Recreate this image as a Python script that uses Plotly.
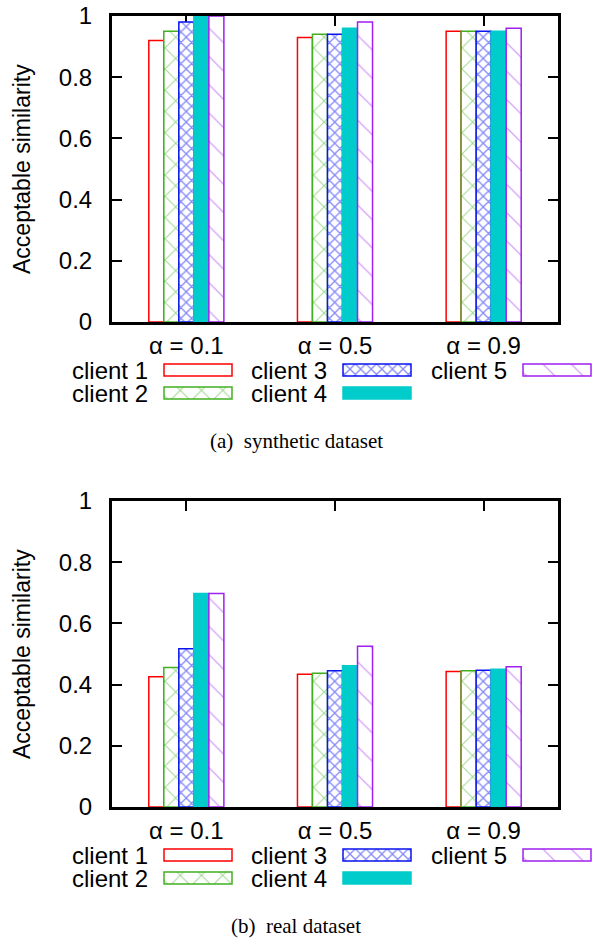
import plotly.graph_objects as go

# ---------------- data ----------------
categories = ["α = 0.1", "α = 0.5", "α = 0.9"]
clients = ["client 1", "client 2", "client 3", "client 4", "client 5"]

synthetic_client1 = [0.92, 0.93, 0.95]
synthetic_client2 = [0.95, 0.94, 0.95]
synthetic_client3 = [0.98, 0.94, 0.95]
synthetic_client4 = [1.00, 0.96, 0.95]
synthetic_client5 = [1.00, 0.98, 0.96]

real_client1 = [0.426, 0.434, 0.443]
real_client2 = [0.456, 0.437, 0.445]
real_client3 = [0.517, 0.445, 0.447]
real_client4 = [0.698, 0.462, 0.450]
real_client5 = [0.698, 0.525, 0.458]

y_ticks = [0, 0.2, 0.4, 0.6, 0.8, 1]
y_ticklabels = ["0", "0.2", "0.4", "0.6", "0.8", "1"]
captions = ["(a)\u00a0 synthetic dataset", "(b)\u00a0 real dataset"]
y_title = "Acceptable similarity"

synthetic = [synthetic_client1, synthetic_client2, synthetic_client3,
             synthetic_client4, synthetic_client5]
real = [real_client1, real_client2, real_client3, real_client4, real_client5]

# ---------------- styles ----------------
W, H = 593, 938
SANS = "Liberation Sans, Arial, Helvetica, sans-serif"
SERIF = "Liberation Serif, Times New Roman, serif"
colors = ["#ff0000", "#40b020", "#0a14f0", "#00cccc", "#a020f0"]
patterns = [
    dict(shape=""),
    dict(shape="x", size=15, solidity=0.13),
    dict(shape="x", size=7.5, solidity=0.32),
    dict(shape=""),
    dict(shape="\\", size=20, solidity=0.06),
]
fills = ["white", "white", "white", "#00cccc", "white"]


def px_x(p):
    return p / W


def px_y(p):
    return 1 - p / H


# panel geometry (pixels)
plot_left, plot_right = 112, 558
panels = [dict(top=16, bottom=322), dict(top=501, bottom=807)]
legend_box_left = [164, 343, 523]
legend_box_w = 68
legend_row_gap = 23

fig = go.Figure()
layout = dict(
    width=W, height=H,
    margin=dict(l=0, r=0, t=0, b=0, pad=0, autoexpand=False),
    paper_bgcolor="white", plot_bgcolor="white",
    showlegend=False,
    barmode="group", bargap=0.495, bargroupgap=0,
    font=dict(family=SANS, size=23, color="black"),
)
annotations = []

for pi, (panel, dataset) in enumerate(zip(panels, [synthetic, real])):
    xa = "x" if pi == 0 else "x2"
    ya = "y" if pi == 0 else "y2"
    lxa = "x3" if pi == 0 else "x4"
    lya = "y3" if pi == 0 else "y4"
    for ci, (name, vals) in enumerate(zip(clients, dataset)):
        fig.add_trace(go.Bar(
            x=categories, y=vals, name=name, xaxis=xa, yaxis=ya,
            marker=dict(color=fills[ci], line=dict(color=colors[ci], width=1.5),
                        pattern=dict(fgcolor=colors[ci], fillmode="overlay",
                                     **patterns[ci])),
            offsetgroup=str(ci),
        ))
    axis_key = "xaxis" if pi == 0 else "xaxis2"
    yaxis_key = "yaxis" if pi == 0 else "yaxis2"
    layout[axis_key] = dict(
        domain=[px_x(plot_left), px_x(plot_right)], anchor=ya,
        type="category", range=[-0.5, 2.5], automargin=False,
        showline=True, linewidth=3, linecolor="black", mirror="ticks",
        ticks="inside", ticklen=10, tickwidth=1.5, tickcolor="black",
        showgrid=False, zeroline=False, layer="below traces",
        tickfont=dict(size=24, family=SANS), ticklabelstandoff=0,
        fixedrange=True,
    )
    layout[yaxis_key] = dict(
        domain=[px_y(panel["bottom"]), px_y(panel["top"])], anchor=xa,
        range=[0, 1], tickvals=y_ticks, ticktext=y_ticklabels, automargin=False,
        showline=True, linewidth=3, linecolor="black", mirror="ticks",
        ticks="inside", ticklen=10, tickwidth=1.5, tickcolor="black",
        showgrid=False, zeroline=False, layer="below traces",
        tickfont=dict(size=24, family=SANS), ticklabelstandoff=12,
        fixedrange=True,
    )
    annotations.append(dict(
        text=y_title, textangle=-90, xref="paper", yref="paper",
        x=px_x(22), y=px_y((panel["top"] + panel["bottom"]) / 2),
        xanchor="center", yanchor="middle", showarrow=False,
        font=dict(size=23, family=SANS),
    ))

    # legend axes (pixel-like units)
    row0 = panel["bottom"] + 48
    leg_top = row0 - legend_row_gap / 2
    leg_bot = row0 + legend_row_gap * 1.5
    layout["xaxis3" if pi == 0 else "xaxis4"] = dict(
        domain=[0, 1], range=[0, W], anchor=lya, visible=False,
        fixedrange=True, automargin=False)
    layout["yaxis3" if pi == 0 else "yaxis4"] = dict(
        domain=[px_y(leg_bot), px_y(leg_top)], range=[1.5, -0.5], anchor=lxa,
        visible=False, fixedrange=True, automargin=False)
    for ci, name in enumerate(clients):
        col, row = ci // 2, ci % 2
        fig.add_trace(go.Bar(
            orientation="h", y=[row], x=[legend_box_w], base=[legend_box_left[col]],
            width=0.52, offset=-0.26, xaxis=lxa, yaxis=lya, showlegend=False,
            hoverinfo="skip",
            marker=dict(color=fills[ci], line=dict(color=colors[ci], width=1.5),
                        pattern=dict(fgcolor=colors[ci], fillmode="overlay",
                                     **patterns[ci])),
        ))
        annotations.append(dict(
            text=name, xref=lxa, yref=lya, x=legend_box_left[col] - 15, y=row,
            xanchor="right", yanchor="middle", showarrow=False,
            height=21, valign="middle", borderpad=0,
            font=dict(size=24, family=SANS),
        ))
    annotations.append(dict(
        text=captions[pi], xref="paper", yref="paper",
        x=px_x(296), y=px_y(panel["bottom"] + 119),
        xanchor="center", yanchor="middle", showarrow=False,
        font=dict(size=21, family=SERIF),
    ))

layout["annotations"] = annotations
fig.update_layout(**layout)
fig.write_html("out.html")
